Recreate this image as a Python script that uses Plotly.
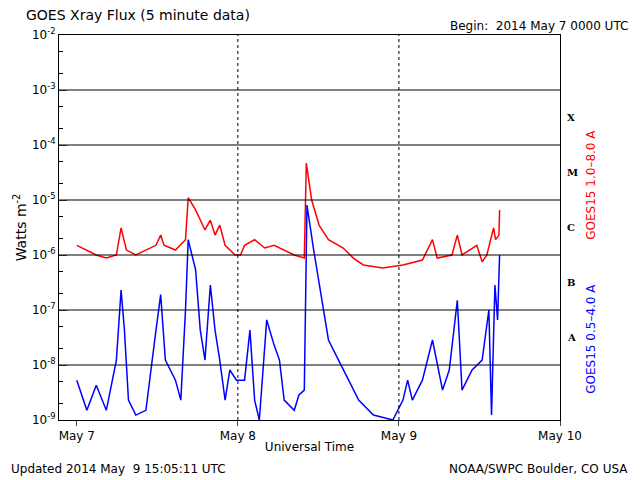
import plotly.graph_objects as go
from datetime import datetime, timedelta

t0 = datetime(2014, 5, 7)
red_hours = [0,2.9,4.4,5.9,6.6,7.4,8.8,10.3,11.8,12.5,13.0,14.7,16.2,16.6,17.7,19.1,19.9,20.6,21.3,22.1,23.6,24.4,25.0,26.5,28.0,29.4,30.9,32.4,33.9,34.2,35.0,36.1,37.5,39.7,41.2,42.7,45.6,48.6,51.5,53.0,53.7,55.9,56.7,57.4,59.6,60.4,61.1,62.1,62.4,62.9,63.0]
red_flux = [1.5e-6,1.0e-6,8.8e-7,1.0e-6,3.1e-6,1.23e-6,1.0e-6,1.23e-6,1.5e-6,2.3e-6,1.5e-6,1.23e-6,1.9e-6,1.1e-5,6.6e-6,2.85e-6,4.3e-6,2.3e-6,3.5e-6,1.5e-6,1.0e-6,1.0e-6,1.5e-6,1.9e-6,1.34e-6,1.5e-6,1.23e-6,1.0e-6,8.8e-7,4.7e-5,1.0e-5,3.5e-6,1.9e-6,1.34e-6,8.8e-7,6.6e-7,5.8e-7,6.6e-7,8.1e-7,1.9e-6,8.8e-7,1.0e-6,2.3e-6,1.0e-6,1.5e-6,7.5e-7,1.0e-6,3.1e-6,1.9e-6,2.3e-6,6.6e-6]
blue_hours = [0,1.5,2.9,4.4,5.9,6.6,7.1,7.7,8.8,10.3,11.8,12.5,13.2,14.7,15.5,16.2,16.6,17.7,18.4,19.1,19.9,20.6,21.3,22.1,22.8,23.8,25.0,25.8,26.5,27.2,28.3,29.4,30.2,30.9,32.4,33.1,33.9,34.3,35.3,36.5,37.5,39.0,40.5,42.0,44.2,47.1,48.6,49.3,50.0,51.5,53.0,54.5,55.5,56.7,57.4,58.9,60.4,61.4,61.8,62.3,62.7,63.0]
blue_flux = [5.3e-9,1.5e-9,4.3e-9,1.5e-9,1.23e-8,2.3e-7,4.3e-8,2.3e-9,1.23e-9,1.5e-9,4.3e-8,1.9e-7,1.23e-8,5.3e-9,2.3e-9,1e-7,1.9e-6,5.4e-7,4.3e-8,1.23e-8,2.85e-7,4.3e-8,1.23e-8,2.3e-9,8.1e-9,5.3e-9,5.3e-9,4.3e-8,2.3e-9,1e-9,6.6e-8,2.3e-8,1.23e-8,2.3e-9,1.5e-9,2.85e-9,3.5e-9,8.1e-6,1.23e-6,1.5e-7,2.85e-8,1.23e-8,5.3e-9,2.3e-9,1.23e-9,1e-9,2.3e-9,5.3e-9,2.3e-9,5.3e-9,2.85e-8,3.5e-9,8.1e-9,1.5e-7,3.5e-9,8.1e-9,1.23e-8,1.0e-7,1.23e-9,2.85e-7,6.6e-8,1e-6]
ytick_exp = [-9,-8,-7,-6,-5,-4,-3,-2]
xtick_days = ["May 7","May 8","May 9","May 10"]
classes = ["X","M","C","B","A"]
class_log = [-3.5,-4.5,-5.5,-6.5,-7.5]

def ts(hs): return [t0 + timedelta(hours=h) for h in hs]

fig = go.Figure()
fig.add_trace(go.Scatter(x=ts(red_hours), y=red_flux, mode="lines", line=dict(color="red", width=1.5)))
fig.add_trace(go.Scatter(x=ts(blue_hours), y=blue_flux, mode="lines", line=dict(color="blue", width=1.5)))

for e in ytick_exp[1:-1]:
    fig.add_shape(type="line", xref="paper", x0=0, x1=1, y0=10**e, y1=10**e, line=dict(color="black", width=1))
for d in [1, 2]:
    fig.add_shape(type="line", x0=t0+timedelta(days=d), x1=t0+timedelta(days=d), yref="paper", y0=0, y1=1, line=dict(color="black", width=1, dash="dot"))
for c, p in zip(classes, class_log):
    fig.add_annotation(xref="paper", x=1.01, xanchor="left", y=p, yref="y", text="<b>"+c+"</b>", showarrow=False, font=dict(size=10, color="black", family="DejaVu Serif"))

font = dict(family="DejaVu Sans", size=12, color="black")
fig.add_annotation(xref="paper", yref="paper", x=-0.07, y=1.025, xanchor="left", yanchor="bottom", text="GOES Xray Flux (5 minute data)", showarrow=False, font=dict(family="DejaVu Sans", size=14))
fig.add_annotation(xref="paper", yref="paper", x=1.14, y=1.0, xanchor="right", yanchor="bottom", text="Begin:  2014 May 7 0000 UTC", showarrow=False, font=font)
fig.add_annotation(xref="paper", yref="paper", x=1.063, y=0.61, xanchor="center", yanchor="middle", text="GOES15 1.0–8.0 A", textangle=-90, showarrow=False, font=dict(family="DejaVu Sans", size=12, color="red"))
fig.add_annotation(xref="paper", yref="paper", x=1.063, y=0.21, xanchor="center", yanchor="middle", text="GOES15 0.5–4.0 A", textangle=-90, showarrow=False, font=dict(family="DejaVu Sans", size=12, color="blue"))
fig.add_annotation(xref="paper", yref="paper", x=-0.1, y=-0.105, xanchor="left", yanchor="top", text="Updated 2014 May  9 15:05:11 UTC", showarrow=False, font=font)
fig.add_annotation(xref="paper", yref="paper", x=1.14, y=-0.105, xanchor="right", yanchor="top", text="NOAA/SWPC Boulder, CO USA", showarrow=False, font=font)

fig.update_layout(
    width=640, height=480, paper_bgcolor="white", plot_bgcolor="white", showlegend=False,
    margin=dict(l=44, r=88, t=27, b=68), font=font,
    xaxis=dict(range=[t0 - timedelta(hours=2.65), t0 + timedelta(days=3)], tickvals=[t0+timedelta(days=i) for i in range(4)],
               ticktext=xtick_days, ticks="outside", ticklen=5, showgrid=False, showline=True, mirror=True, linecolor="black",
               title=dict(text="Universal Time", font=dict(size=12), standoff=0)),
    yaxis=dict(type="log", range=[-9, -2], tickvals=[10**e for e in ytick_exp], ticktext=["10<sup>%d</sup>" % e for e in ytick_exp],
               ticks="inside", ticklen=8, showgrid=False, showline=True, mirror=True, linecolor="black",
               minor=dict(ticks="inside", ticklen=4, showgrid=False, tickcolor="black"),
               title=dict(text="Watts m<sup>-2</sup>", font=dict(size=14), standoff=2)),
)
fig.write_html("out.html")
